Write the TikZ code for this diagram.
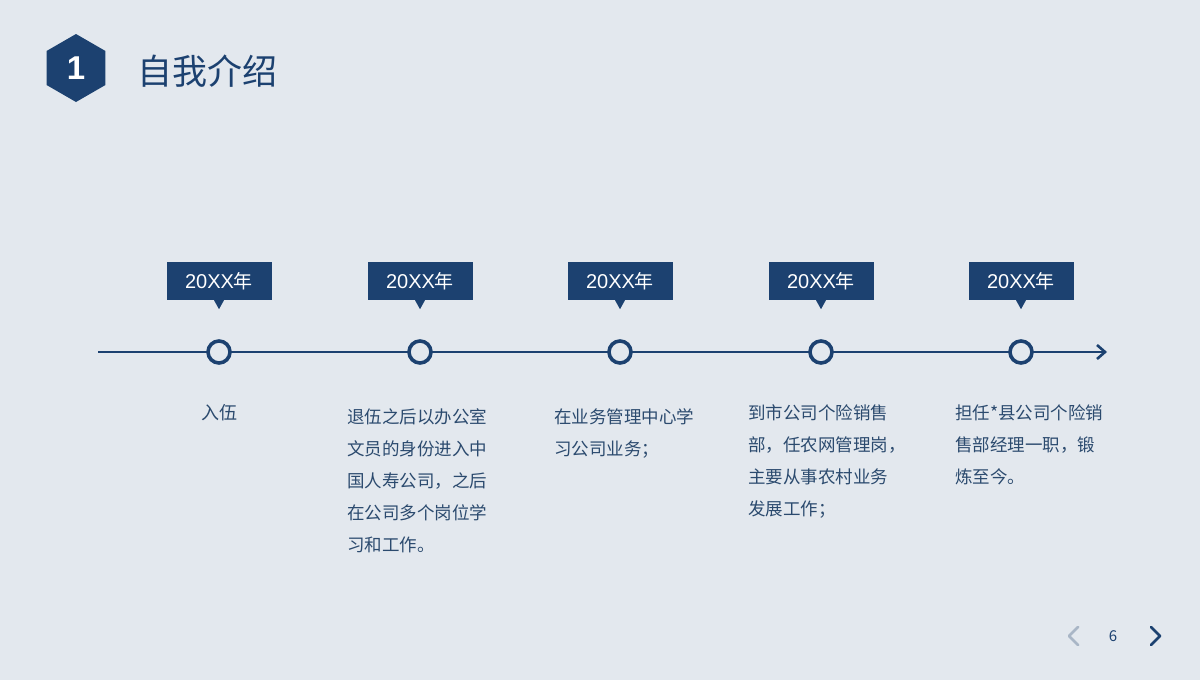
\documentclass[tikz,border=0pt]{standalone}
\usepackage{fontspec}
\setmainfont{Liberation Sans}
\newfontfamily\cjk{Noto Sans CJK SC}
\usetikzlibrary{arrows.meta,shapes.geometric}
\definecolor{bg}{HTML}{E3E8EE}
\definecolor{navy}{HTML}{1C4170}
\definecolor{txt}{HTML}{2B4A6E}
\definecolor{greych}{HTML}{A9B6C6}
\tikzset{
  yearbox/.style={fill=navy, text=white, minimum width=105pt, minimum height=38pt, inner sep=0pt, font=\fontsize{20}{20}\selectfont},
  dot/.style={circle, draw=navy, line width=3.6pt, fill=bg, minimum size=22pt, inner sep=0pt},
  desc/.style={anchor=north west, inner sep=0pt, align=left, text=txt, font=\cjk\fontsize{17.5}{32}\selectfont},
  chev/.style={line width=2.8pt, line cap=round, line join=round}
}
\begin{document}
\begin{tikzpicture}[x=1pt,y=-1pt]
\useasboundingbox (0,0) rectangle (1200,680);
\fill[bg] (0,0) rectangle (1200,680);
% header
\node[regular polygon, regular polygon sides=6, shape border rotate=30, fill=navy, minimum size=68pt, inner sep=0pt] (hex) at (76,68) {};
\node[text=white, font=\bfseries\fontsize{33}{33}\selectfont] (num) at (76,68) {1};
\node[anchor=west, text=navy, font=\cjk\fontsize{35}{35}\selectfont, inner sep=0pt] (title) at (137,71) {自我介绍};
% timeline
\coordinate (tstart) at (98,352);
\coordinate (tend) at (1107,352);
\draw[navy, line width=2.8pt, -{Straight Barb[length=8pt,width=14pt,line width=2.6pt]}] (tstart) -- (tend);
\foreach \i/\x in {1/219,2/420,3/620,4/821,5/1021}{
  \node[dot] (c\i) at (\x,352) {};
  \node[yearbox] (y\i) at (\x,281) {20XX{\cjk\fontsize{19}{19}\selectfont 年}};
  \fill[navy] ([xshift=-5pt]y\i.south) -- ([xshift=5pt]y\i.south) -- ([yshift=-9pt]y\i.south) -- cycle;
}
% descriptions
\node[text=txt, font=\cjk\fontsize{18}{18}\selectfont] (d1) at (219,413) {入伍};
\node[desc] (d2) at (347,408) {退伍之后以办公室\\文员的身份进入中\\国人寿公司，之后\\在公司多个岗位学\\习和工作。};
\node[desc] (d3) at (554,408) {在业务管理中心学\\习公司业务；};
\node[desc] (d4) at (748,404) {到市公司个险销售\\部，任农网管理岗，\\主要从事农村业务\\发展工作；};
\node[desc] (d5) at (955,404) {担任*县公司个险销\\售部经理一职，锻\\炼至今。};
% footer
\node[text=navy, font=\cjk\fontsize{15}{15}\selectfont] (pg) at (1113,636) {6};
\coordinate (l1) at (1078,627);
\coordinate (l2) at (1069,636);
\coordinate (l3) at (1078,645);
\draw[chev, greych] (l1) -- (l2) -- (l3);
\coordinate (r1) at (1151,627);
\coordinate (r2) at (1160,636);
\coordinate (r3) at (1151,645);
\draw[chev, navy] (r1) -- (r2) -- (r3);
\end{tikzpicture}
\end{document}
